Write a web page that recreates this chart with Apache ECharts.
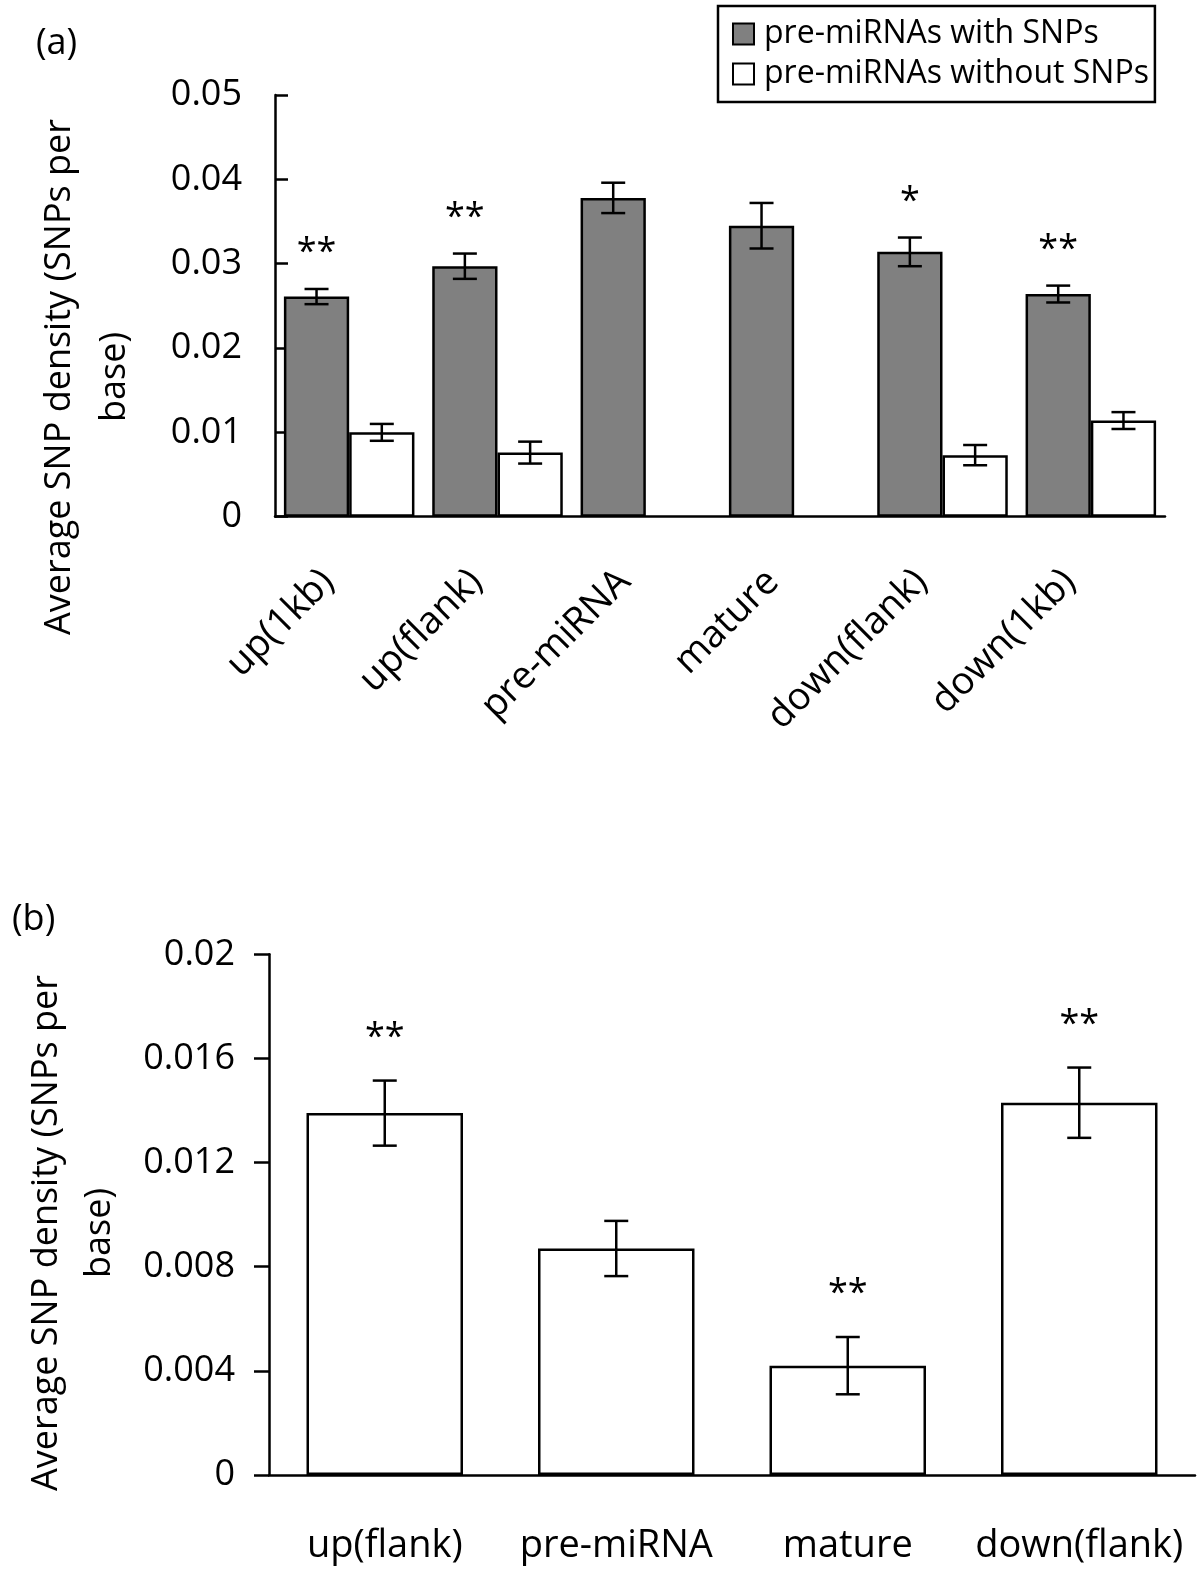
<!DOCTYPE html>
<html>
<head>
<meta charset="utf-8">
<script src="https://cdn.jsdelivr.net/npm/echarts@6/dist/echarts.min.js"></script>
<style>
  html, body { margin: 0; padding: 0; background: #fff; }
  #chart { width: 1200px; height: 1576px; }
</style>
</head>
<body>
<div id="chart"></div>
<script>
// panel (a)
const categoriesA = ['up(1kb)', 'up(flank)', 'pre-miRNA', 'mature', 'down(flank)', 'down(1kb)'];
const withSnps = [0.0261, 0.0297, 0.0378, 0.0345, 0.0314, 0.0264];
const withSnpsErr = [0.0009, 0.0015, 0.0018, 0.0027, 0.0017, 0.0010];
const withoutSnps = [0.0100, 0.0076, null, null, 0.0073, 0.0114];
const withoutSnpsErr = [0.0010, 0.0013, null, null, 0.0012, 0.0010];
const starsA = ['**', '**', '', '', '*', '**'];
const ticksA = [0, 0.01, 0.02, 0.03, 0.04, 0.05];

// panel (b)
const categoriesB = ['up(flank)', 'pre-miRNA', 'mature', 'down(flank)'];
const densityB = [0.0139, 0.0087, 0.0042, 0.0143];
const densityBErr = [0.00125, 0.00106, 0.0011, 0.00135];
const starsB = ['**', '', '**', '**'];
const ticksB = [0, 0.004, 0.008, 0.012, 0.016, 0.02];

const font = 'Open Sans';
const black = '#000';
const gray = '#808080';
const lineW = 2.5;
const catGapA = 0.12;  // barCategoryGap of panel (a)

function errData(vals, errs) {
  const out = [];
  vals.forEach((v, i) => {
    if (v != null) out.push([i, v, errs[i]]);
  });
  return out;
}

// draws the I-beam error bar and the significance stars
function errorBar(shift, stars, starLift) {
  return function (params, api) {
    const i = api.value(0);
    const v = api.value(1);
    const e = api.value(2);
    const band = api.size([1, 0])[0];
    const dx = shift * band;
    const top = api.coord([i, v + e]);
    const bot = api.coord([i, v - e]);
    const x = top[0] + dx;
    const cap = 12;
    const st = { stroke: black, lineWidth: lineW };
    const kids = [
      { type: 'line', shape: { x1: x, y1: top[1], x2: x, y2: bot[1] }, style: st },
      { type: 'line', shape: { x1: x - cap, y1: top[1], x2: x + cap, y2: top[1] }, style: st },
      { type: 'line', shape: { x1: x - cap, y1: bot[1], x2: x + cap, y2: bot[1] }, style: st }
    ];
    const s = stars[i];
    if (s) {
      kids.push({
        type: 'text',
        style: {
          text: s, x: x, y: top[1] - starLift,
          fill: black, font: '36px "' + font + '"',
          textAlign: 'center', textVerticalAlign: 'middle'
        }
      });
    }
    return { type: 'group', children: kids };
  };
}

const valueAxisBase = {
  type: 'value',
  min: 0,
  axisLine: { show: true, lineStyle: { color: black, width: lineW } },
  splitLine: { show: false },
  axisLabel: { color: black, fontFamily: font, fontSize: 36 }
};

const chart = echarts.init(document.getElementById('chart'));
chart.setOption({
  animation: false,
  backgroundColor: '#fff',
  textStyle: { fontFamily: font, color: black },
  legend: {
    show: true,
    left: 718,
    top: 6,
    orient: 'vertical',
    data: ['pre-miRNAs with SNPs', 'pre-miRNAs without SNPs'],
    icon: 'rect',
    itemWidth: 21,
    itemHeight: 21,
    itemGap: 8,
    borderColor: black,
    borderWidth: lineW,
    borderRadius: 0,
    padding: [12, 6, 12, 14],
    itemStyle: { borderColor: black, borderWidth: 2 },
    textStyle: { fontFamily: font, fontSize: 32, color: black, lineHeight: 30, padding: [0, 0, 0, 5] }
  },
  grid: [
    { left: 275, top: 95, width: 890, height: 421.7 },
    { left: 269, top: 954.3, width: 926, height: 520.7 }
  ],
  xAxis: [
    {
      type: 'category', gridIndex: 0, data: categoriesA,
      axisLine: { lineStyle: { color: black, width: lineW } },
      axisTick: { show: false },
      axisLabel: {
        color: black, fontFamily: font, fontSize: 38, rotate: 45, interval: 0,
        margin: 38, padding: [0, 30, 0, 0]
      }
    },
    {
      type: 'category', gridIndex: 1, data: categoriesB,
      axisLine: { lineStyle: { color: black, width: lineW } },
      axisTick: { show: false },
      axisLabel: { color: black, fontFamily: font, fontSize: 38, interval: 0, margin: 52 }
    }
  ],
  yAxis: [
    Object.assign({}, valueAxisBase, {
      gridIndex: 0, max: ticksA[ticksA.length - 1], interval: ticksA[1],
      axisTick: { show: true, inside: true, length: 13, lineStyle: { color: black, width: lineW } },
      axisLabel: Object.assign({}, valueAxisBase.axisLabel, { margin: 33 })
    }),
    Object.assign({}, valueAxisBase, {
      gridIndex: 1, max: ticksB[ticksB.length - 1], interval: ticksB[1],
      axisTick: { show: true, inside: false, length: 15, lineStyle: { color: black, width: lineW } },
      axisLabel: Object.assign({}, valueAxisBase.axisLabel, { margin: 34 })
    })
  ],
  graphic: [
    { type: 'text', left: 36, top: 26, style: { text: '(a)', font: '36px "' + font + '"', fill: black } },
    { type: 'text', left: 12, top: 902, style: { text: '(b)', font: '36px "' + font + '"', fill: black } },
    {
      type: 'text', x: 87, y: 377, rotation: Math.PI / 2,
      style: {
        text: 'Average SNP density (SNPs per\nbase)', font: '36px "' + font + '"', fill: black,
        textAlign: 'center', textVerticalAlign: 'middle', lineHeight: 55
      }
    },
    {
      type: 'text', x: 73, y: 1233, rotation: Math.PI / 2,
      style: {
        text: 'Average SNP density (SNPs per\nbase)', font: '36px "' + font + '"', fill: black,
        textAlign: 'center', textVerticalAlign: 'middle', lineHeight: 53
      }
    }
  ],
  series: [
    {
      name: 'pre-miRNAs with SNPs', type: 'bar', xAxisIndex: 0, yAxisIndex: 0,
      data: withSnps, barGap: '0%', barCategoryGap: (catGapA * 100) + '%',
      itemStyle: { color: gray, borderColor: black, borderWidth: lineW }
    },
    {
      name: 'pre-miRNAs without SNPs', type: 'bar', xAxisIndex: 0, yAxisIndex: 0,
      data: withoutSnps, barGap: '0%', barCategoryGap: (catGapA * 100) + '%',
      itemStyle: { color: '#fff', borderColor: black, borderWidth: lineW }
    },
    {
      type: 'custom', xAxisIndex: 0, yAxisIndex: 0, z: 5,
      data: errData(withSnps, withSnpsErr),
      renderItem: errorBar(-(1 - catGapA) / 4, starsA, 36)
    },
    {
      type: 'custom', xAxisIndex: 0, yAxisIndex: 0, z: 5,
      data: errData(withoutSnps, withoutSnpsErr),
      renderItem: errorBar((1 - catGapA) / 4, [], 36)
    },
    {
      name: 'b', type: 'bar', xAxisIndex: 1, yAxisIndex: 1,
      data: densityB, barCategoryGap: '32.4%',
      itemStyle: { color: '#fff', borderColor: black, borderWidth: lineW }
    },
    {
      type: 'custom', xAxisIndex: 1, yAxisIndex: 1, z: 5,
      data: errData(densityB, densityBErr),
      renderItem: errorBar(0, starsB, 43)
    }
  ]
});
</script>
</body>
</html>
